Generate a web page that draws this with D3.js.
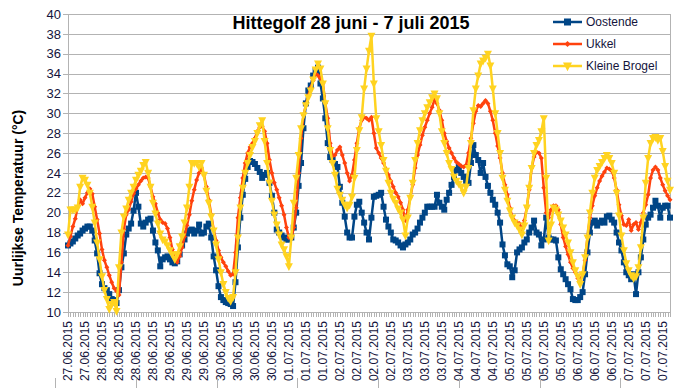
<!DOCTYPE html>
<html>
<head>
<meta charset="utf-8">
<script src="https://cdn.jsdelivr.net/npm/d3@7"></script>
<style>
  body { margin: 0; background: #fff; }
  svg { display: block; font-family: 'Liberation Sans', Arial, sans-serif; }
</style>
</head>
<body>
<div id="chart"></div>
<script>
// hourly values, first point 27.06.2015 10:00, one point per hour
var oostende = [
  16.7, 16.9, 17.1, 17.4, 17.7, 17.9, 18.2, 18.4, 18.6, 18.6, 18.2, 17.2,
  15.9, 13.9, 12.8, 12.4, 12.2, 11.8, 11.3, 11.2, 10.9, 12.2, 14.5, 15.9,
  17.8, 18.4, 18.9, 20.2, 22.0, 20.6, 18.9, 18.6, 19.0, 19.3, 19.4, 18.2,
  17.0, 16.2, 14.6, 15.3, 15.5, 15.6, 15.3, 15.0, 14.9, 15.1, 15.8, 16.7,
  17.3, 17.9, 18.2, 18.3, 17.9, 18.2, 18.8, 17.9, 18.0, 18.6, 18.9, 17.5,
  15.6, 14.2, 12.6, 11.5, 11.2, 11.0, 10.9, 10.8, 10.6, 13.0, 16.5, 19.5,
  21.8, 23.4, 24.6, 25.2, 25.1, 24.9, 24.5, 24.1, 23.5, 23.8, 24.0, 23.0,
  21.7, 20.0, 18.3, 18.0, 17.7, 17.5, 17.3, 17.3, 17.5, 18.5, 20.0, 22.7,
  25.0, 28.5, 31.0, 32.3, 32.8, 33.8, 34.3, 34.6, 33.0, 31.5, 29.5, 27.0,
  25.6, 25.3, 24.9, 24.6, 22.6, 21.0, 19.6, 18.0, 17.5, 17.5, 19.6, 20.8,
  21.1, 20.0, 19.0, 18.0, 17.3, 19.5, 21.6, 21.7, 21.8, 22.0, 20.6, 19.3,
  18.6, 18.0, 17.3, 17.2, 17.0, 16.7, 16.5, 16.8, 17.0, 17.3, 17.8, 18.0,
  18.4, 19.0, 19.5, 20.0, 20.6, 20.6, 20.6, 20.6, 21.8, 21.0, 20.6, 20.3,
  21.3, 22.0, 22.8, 23.6, 24.3, 24.6, 24.0, 23.6, 23.2, 23.0, 25.0, 26.8,
  25.8, 25.3, 24.0, 25.0, 23.6, 22.7, 22.0, 21.3, 20.8, 20.0, 19.0, 16.8,
  15.7, 14.8, 14.6, 13.5, 14.2, 16.0, 16.3, 16.5, 17.0, 17.3, 18.0, 18.5,
  19.2, 18.0, 17.8, 16.7, 17.3, 19.5, 17.5, 17.3, 17.3, 17.2, 15.5, 14.3,
  13.8, 13.3, 12.8, 12.3, 11.3, 11.2, 11.2, 11.5, 12.0, 13.8, 16.0, 18.0,
  19.0, 19.2, 18.7, 19.0, 19.2, 19.0, 19.6, 19.7, 19.3, 19.0, 18.0, 17.0,
  16.2, 15.0, 14.0, 13.7, 13.3, 13.8, 11.8, 14.0, 15.5, 17.3, 18.8, 19.5,
  19.8, 20.5, 21.2, 20.7, 19.5, 20.5, 20.7, 20.7, 19.5
]

var ukkel = [
  16.7, 17.6, 18.6, 19.4, 20.6, 21.3, 20.9, 21.5, 22.0, 22.4, 21.9, 20.6,
  19.3, 17.9, 16.3, 15.2, 14.5, 13.7, 13.0, 12.4, 12.1, 11.7, 15.0, 18.3,
  19.8, 20.3, 21.1, 21.9, 22.4, 22.8, 23.2, 23.5, 23.6, 23.5, 22.6, 21.6,
  20.9, 20.0, 19.3, 19.0, 18.9, 18.4, 17.5, 16.3, 15.3, 15.0, 15.6, 16.5,
  17.6, 18.7, 19.8, 21.2, 22.3, 23.3, 24.0, 24.5, 23.8, 22.6, 21.3, 19.8,
  18.3, 17.2, 16.2, 15.5, 15.0, 14.6, 14.1, 13.7, 13.8, 16.0, 19.5, 21.5,
  23.5, 25.0, 26.0, 26.6, 27.0, 27.5, 28.2, 28.6, 28.7, 28.2, 27.0, 25.3,
  24.0, 23.0, 22.3, 21.5, 20.7, 19.8, 18.5, 17.5, 17.4, 18.5, 20.5, 24.0,
  27.5, 29.8, 30.8, 31.8, 32.6, 33.3, 34.0, 33.8, 33.5, 33.0, 31.0, 29.5,
  27.0, 25.7, 25.8, 26.3, 26.6, 25.8, 25.0, 24.0, 23.2, 23.8, 25.3, 27.0,
  28.5, 29.3, 29.6, 29.5, 29.3, 29.6, 28.0, 26.5, 26.0, 25.5, 25.0, 24.4,
  23.8, 23.2, 22.6, 22.0, 21.6, 21.0, 20.3, 19.2, 20.3, 21.5, 22.8, 24.5,
  25.8, 26.8, 27.8, 28.6, 29.3, 30.0, 30.6, 31.4, 31.0, 30.3, 29.3, 28.0,
  27.2, 26.5, 26.0, 25.5, 25.1, 24.9, 24.7, 24.6, 24.8, 26.0, 27.5, 29.0,
  30.2, 30.8, 30.7, 31.0, 31.3, 31.0, 30.2, 29.3, 28.0, 26.7, 25.5, 24.0,
  22.8, 21.8, 20.5, 19.6, 19.2, 19.0, 18.9, 18.3, 19.2, 20.5, 22.3, 24.5,
  25.6, 26.1, 26.0, 25.5, 22.5, 20.0, 19.5, 20.3, 20.7, 20.7, 20.3, 18.8,
  17.5, 16.6, 15.8, 15.0, 14.4, 14.0, 13.4, 13.2, 13.8, 15.2, 17.5, 19.5,
  20.7, 21.7, 22.5, 23.2, 23.7, 24.1, 24.5, 24.4, 24.2, 23.5, 22.3, 20.8,
  19.7, 18.8, 18.7, 19.3, 18.2, 18.8, 19.0, 18.3, 19.0, 20.0, 20.8, 21.8,
  23.5, 24.3, 24.6, 24.3, 23.5, 22.8, 22.2, 21.7, 21.3
]

var kleineBrogel = [
  17.8, 20.3, 20.3, 20.3, 20.5, 22.6, 23.5, 23.3, 22.8, 22.0, 20.6, 19.0,
  17.0, 15.3, 13.6, 12.2, 11.3, 10.3, 10.8, 11.0, 10.1, 14.5, 18.0, 19.6,
  20.4, 21.3, 22.0, 22.6, 23.3, 23.8, 24.2, 24.8, 25.1, 24.0, 22.6, 21.0,
  19.9, 18.9, 17.9, 17.3, 17.1, 16.7, 16.2, 15.8, 15.3, 15.8, 16.6, 17.6,
  19.0, 20.5, 22.6, 25.0, 25.0, 25.0, 24.6, 25.0, 23.8, 22.2, 21.0, 19.6,
  18.2, 16.8, 15.3, 14.0, 12.8, 12.0, 11.4, 11.1, 11.5, 14.0, 17.5, 20.5,
  22.5, 24.0, 25.0, 25.8, 26.6, 27.2, 28.0, 28.8, 29.3, 27.2, 25.0, 23.0,
  21.2, 19.8, 18.8, 17.8, 16.8, 16.3, 15.6, 14.6, 17.5, 21.0, 23.5, 25.8,
  28.5, 29.8, 30.8, 31.6, 32.3, 33.4, 34.4, 35.0, 34.5, 33.0, 31.0, 28.5,
  26.3, 25.0, 23.8, 22.4, 21.8, 21.3, 20.8, 20.5, 20.8, 21.6, 23.5, 26.3,
  28.3, 29.6, 32.5, 34.5, 36.3, 37.8, 33.0, 29.5, 28.2, 26.8, 25.3, 24.2,
  23.0, 22.0, 21.4, 21.0, 20.4, 20.0, 19.3, 17.7, 19.5, 21.5, 23.0, 25.3,
  27.0, 28.3, 29.3, 30.0, 30.6, 31.1, 31.6, 32.0, 31.5, 30.0, 28.2, 27.0,
  26.0, 25.0, 24.4, 23.6, 23.2, 22.9, 22.6, 22.0, 22.6, 24.5, 27.0, 30.3,
  32.5, 33.8, 35.0, 35.3, 35.6, 36.0, 34.8, 32.5, 30.0, 28.0, 26.0, 23.5,
  22.3, 21.2, 20.2, 19.5, 19.0, 18.7, 18.3, 17.8, 18.7, 20.5, 22.5, 24.5,
  26.0, 26.8, 27.3, 28.2, 29.5, 23.5, 17.2, 18.8, 20.5, 20.3, 19.8, 19.2,
  18.5, 17.8, 17.0, 16.0, 15.0, 14.2, 13.6, 12.8, 13.8, 15.5, 17.5, 20.0,
  22.0, 23.5, 24.3, 24.7, 25.1, 25.5, 25.8, 25.5, 25.0, 24.0, 22.0, 19.7,
  17.7, 16.2, 14.9, 14.2, 13.7, 13.4, 13.6, 14.5, 16.5, 19.5, 23.0, 25.5,
  27.0, 27.5, 27.6, 27.3, 27.5, 26.2, 24.7, 23.2, 22.3
]

// one label every 7 hours
var labelEvery = 7
var tickLabels = [
  '27.06.2015', '27.06.2015', '28.06.2015', '28.06.2015', '28.06.2015', '28.06.2015',
  '29.06.2015', '29.06.2015', '29.06.2015', '30.06.2015', '30.06.2015', '30.06.2015',
  '30.06.2015', '01.07.2015', '01.07.2015', '01.07.2015', '02.07.2015', '02.07.2015',
  '02.07.2015', '02.07.2015', '03.07.2015', '03.07.2015', '03.07.2015', '04.07.2015',
  '04.07.2015', '04.07.2015', '05.07.2015', '05.07.2015', '05.07.2015', '05.07.2015',
  '06.07.2015', '06.07.2015', '06.07.2015', '07.07.2015', '07.07.2015', '07.07.2015'
]
var yTicks = [10, 12, 14, 16, 18, 20, 22, 24, 26, 28, 30, 32, 34, 36, 38, 40]

var seriesNames = ['Oostende', 'Ukkel', 'Kleine Brogel']
var seriesColors = ['#004586', '#ff420e', '#ffd320']
var seriesValues = [oostende, ukkel, kleineBrogel]

var width = 693
var height = 388
var margin = { top: 14, right: 23, bottom: 76, left: 68 }
var gridColor = '#b3b3b3'
var textColor = '#14143c'

var svg = d3
  .select('#chart')
  .append('svg')
  .attr('width', width)
  .attr('height', height)

var x = d3
  .scalePoint()
  .domain(d3.range(oostende.length))
  .range([margin.left, width - margin.right])

var y = d3
  .scaleLinear()
  .domain([10, 40])
  .range([height - margin.bottom, margin.top])

var plotLeft = margin.left
var plotRight = width - margin.right
var plotBottom = height - margin.bottom

//gridlines and y labels
var yAxis = svg.append('g').attr('class', 'y-axis')
yAxis
  .selectAll('line')
  .data(yTicks)
  .enter()
  .append('line')
  .attr('x1', plotLeft - 5)
  .attr('x2', plotRight)
  .attr('y1', function(d) { return Math.round(y(d)) + 0.5 })
  .attr('y2', function(d) { return Math.round(y(d)) + 0.5 })
  .attr('stroke', gridColor)
  .attr('stroke-width', 1)

yAxis
  .selectAll('text')
  .data(yTicks)
  .enter()
  .append('text')
  .attr('x', plotLeft - 7)
  .attr('y', function(d) { return y(d) })
  .attr('dy', '0.36em')
  .attr('text-anchor', 'end')
  .attr('fill', textColor)
  .style('font-size', '13px')
  .text(function(d) { return d })

//frame lines left and right
svg
  .append('line')
  .attr('x1', plotLeft + 0.5)
  .attr('x2', plotLeft + 0.5)
  .attr('y1', y(40))
  .attr('y2', plotBottom + 5)
  .attr('stroke', gridColor)
svg
  .append('line')
  .attr('x1', plotRight + 0.5)
  .attr('x2', plotRight + 0.5)
  .attr('y1', y(40))
  .attr('y2', plotBottom + 5)
  .attr('stroke', gridColor)

//small tick on every hour
svg
  .append('g')
  .selectAll('line')
  .data(x.domain())
  .enter()
  .append('line')
  .attr('x1', function(d) { return Math.round(x(d)) + 0.5 })
  .attr('x2', function(d) { return Math.round(x(d)) + 0.5 })
  .attr('y1', plotBottom)
  .attr('y2', plotBottom + 5)
  .attr('stroke', gridColor)

//date labels
svg
  .append('g')
  .selectAll('text')
  .data(tickLabels)
  .enter()
  .append('text')
  .attr('transform', function(d, i) {
    return 'translate(' + x(i * labelEvery) + ',' + (plotBottom + 9) + ') rotate(-90)'
  })
  .attr('dy', '0.36em')
  .attr('text-anchor', 'end')
  .attr('fill', textColor)
  .style('font-size', '12px')
  .text(function(d) { return d })

//faint separators under the labels
svg
  .append('g')
  .selectAll('line')
  .data(d3.range(8))
  .enter()
  .append('line')
  .attr('x1', function(d) { return Math.round(55 + d * 80.75) + 0.5 })
  .attr('x2', function(d) { return Math.round(55 + d * 80.75) + 0.5 })
  .attr('y1', 378)
  .attr('y2', height)
  .attr('stroke', gridColor)

//markers
function marker(sel, k, size) {
  if (k === 0) {
    sel
      .append('rect')
      .attr('x', -size / 2)
      .attr('y', -size / 2)
      .attr('width', size)
      .attr('height', size)
  } else if (k === 1) {
    sel
      .append('path')
      .attr('d', 'M0 ' + -size / 2 + 'L' + size / 2 + ' 0L0 ' + size / 2 + 'L' + -size / 2 + ' 0Z')
  } else {
    sel
      .append('path')
      .attr('d', 'M' + -size / 2 + ' ' + -size / 2.6 + 'L' + size / 2 + ' ' + -size / 2.6 + 'L0 ' + size / 1.7 + 'Z')
  }
}
var markerSizes = [6, 5, 8]

var line = d3
  .line()
  .x(function(d, i) { return x(i) })
  .y(function(d) { return y(d) })

seriesValues.forEach(function(values, k) {
  var g = svg.append('g').attr('class', 'series-' + k)
  g.append('path')
    .attr('d', line(values))
    .attr('fill', 'none')
    .attr('stroke', seriesColors[k])
    .attr('stroke-width', 2.5)
    .attr('stroke-linejoin', 'round')

  g.selectAll('g')
    .data(values)
    .enter()
    .append('g')
    .attr('transform', function(d, i) {
      return 'translate(' + x(i) + ',' + y(d) + ')'
    })
    .attr('fill', seriesColors[k])
    .each(function() {
      marker(d3.select(this), k, markerSizes[k])
    })
})

//title
svg
  .append('text')
  .attr('x', 351)
  .attr('y', 29)
  .attr('text-anchor', 'middle')
  .attr('fill', '#000')
  .style('font-size', '18px')
  .style('font-weight', 'bold')
  .text('Hittegolf 28 juni - 7 juli 2015')

//y axis title
svg
  .append('text')
  .attr('transform', 'translate(23,198) rotate(-90)')
  .attr('text-anchor', 'middle')
  .attr('fill', '#000')
  .style('font-size', '14px')
  .style('font-weight', 'bold')
  .text('Uurlijkse Temperatuur (°C)')

//legend
var legend = svg
  .append('g')
  .attr('class', 'legend')
  .attr('transform', 'translate(553,22)')

var items = legend
  .selectAll('g')
  .data(seriesNames)
  .enter()
  .append('g')
  .attr('transform', function(d, i) { return 'translate(0,' + i * 22 + ')' })

items
  .append('line')
  .attr('x1', 0)
  .attr('x2', 29)
  .attr('stroke', function(d, i) { return seriesColors[i] })
  .attr('stroke-width', 2.5)

items
  .append('g')
  .attr('transform', 'translate(14.5,0)')
  .attr('fill', function(d, i) { return seriesColors[i] })
  .each(function(d, i) {
    marker(d3.select(this), i, markerSizes[i] + 1)
  })

items
  .append('text')
  .attr('x', 33)
  .attr('dy', '0.36em')
  .attr('fill', textColor)
  .style('font-size', '12px')
  .text(function(d) { return d })
</script>
</body>
</html>
